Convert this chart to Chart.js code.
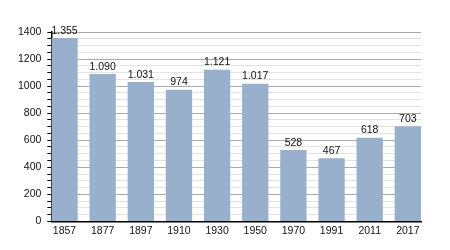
<!DOCTYPE html>
<html>
<head>
<meta charset="utf-8">
<script src="https://cdn.jsdelivr.net/npm/chart.js@4"></script>
<style>
  html, body { margin: 0; padding: 0; background: #fff; }
  #wrap { width: 450px; height: 250px; }
</style>
</head>
<body>
<div id="wrap"><canvas id="grafico"></canvas></div>
<script>
const anos = ['1857', '1877', '1897', '1910', '1930', '1950', '1970', '1991', '2011', '2017'];
const populacao = [1355, 1090, 1031, 974, 1121, 1017, 528, 467, 618, 703];
const yMax = 1400;
const larguraBarra = 0.69;

function formatar(v) {
    return String(v).replace(/\B(?=(\d{3})+(?!\d))/g, '.');
}

const pontos = populacao.map((v, i) => ({ x: i, y: v }));

const rotulos = {
    id: 'rotulos',
    afterDatasetsDraw(chart) {
        const ctx = chart.ctx;
        const meta = chart.getDatasetMeta(0);
        ctx.save();
        ctx.font = '10.5px "Liberation Sans", Arial, sans-serif';
        ctx.fillStyle = '#111';
        ctx.textAlign = 'center';
        ctx.textBaseline = 'bottom';
        meta.data.forEach((bar, i) => {
            ctx.fillText(formatar(populacao[i]), bar.x, bar.y - 2);
        });
        ctx.restore();
    }
};

const ctx = document.getElementById('grafico').getContext('2d');
new Chart(ctx, {
    type: 'bar',
    data: {
        datasets: [{
            data: pontos,
            backgroundColor: '#98b0cc',
            categoryPercentage: 1,
            barPercentage: larguraBarra
        }]
    },
    options: {
        responsive: true,
        maintainAspectRatio: false,
        animation: false,
        layout: { padding: { left: 12, right: 29, top: 32, bottom: 10 } },
        plugins: { legend: { display: false }, tooltip: { enabled: false } },
        scales: {
            x: {
                type: 'linear',
                offset: false,
                min: -larguraBarra / 2,
                max: anos.length - 1 + larguraBarra / 2,
                grid: { display: false, drawTicks: false },
                border: { color: '#000', width: 1.5 },
                ticks: {
                    stepSize: 1,
                    includeBounds: false,
                    autoSkip: false,
                    maxRotation: 0,
                    color: '#111',
                    padding: 3,
                    font: { family: '"Liberation Sans", Arial, sans-serif', size: 10.5 },
                    callback: v => (Number.isInteger(v) ? anos[v] : '')
                }
            },
            y: {
                min: 0,
                max: yMax,
                border: { color: '#000', width: 1.5 },
                grid: {
                    color: c => (c.tick && c.tick.value % 200 === 0) ? '#aaaaaa' : '#e2e2e2',
                    tickColor: '#000',
                    tickLength: 4
                },
                ticks: {
                    stepSize: 50,
                    autoSkip: false,
                    color: '#111',
                    padding: 6,
                    font: { family: '"Liberation Sans", Arial, sans-serif', size: 10.5 },
                    callback: v => (v % 200 === 0 ? v : '')
                }
            }
        }
    },
    plugins: [rotulos]
});
</script>
</body>
</html>
